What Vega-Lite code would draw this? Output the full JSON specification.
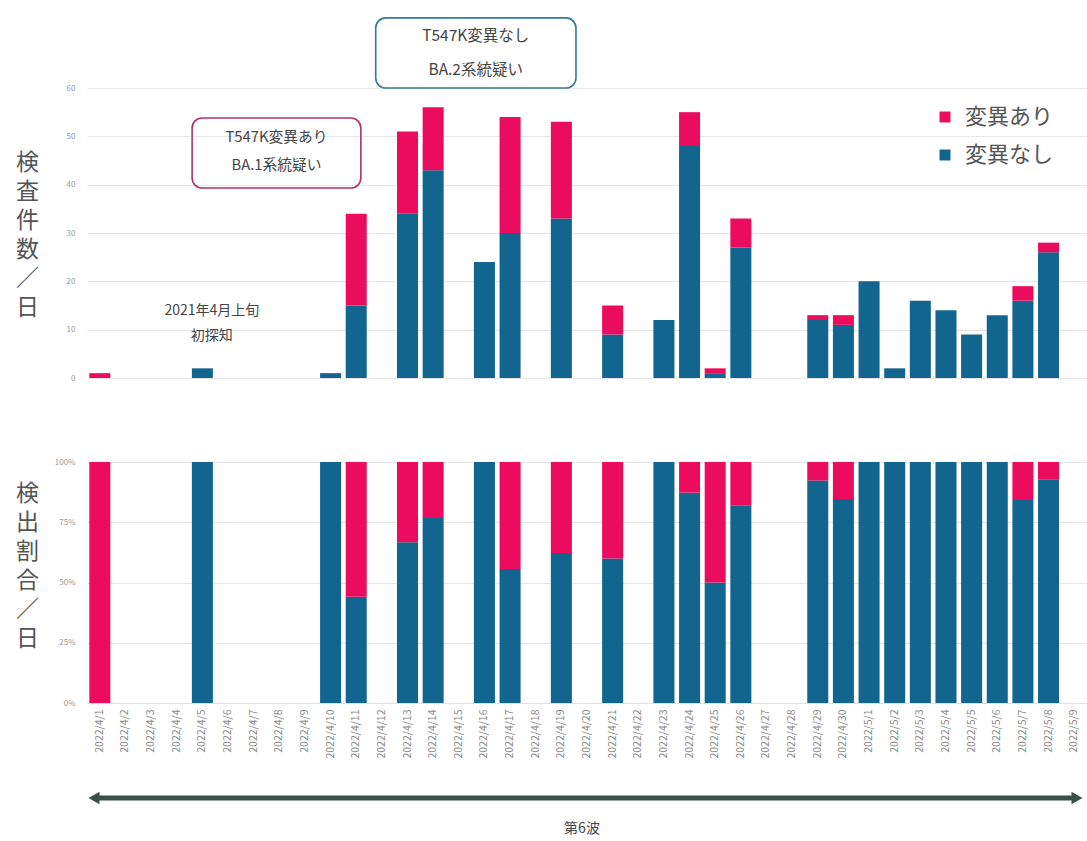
{
  "$schema": "https://vega.github.io/schema/vega-lite/v6.json",
  "padding": {"left": 15, "top": 17, "right": 0, "bottom": 12},
  "background": "white",
  "config": {
    "font": "Noto Sans CJK JP",
    "view": {"stroke": null},
    "axis": {"labelColor": "#999999", "labelFontSize": 8, "titleColor": "#555555", "titleFontWeight": "normal", "gridColor": "#e6e6e6", "domain": false, "ticks": false}
  },
  "datasets": {
    "tests": [
      {"date": "2022/4/1", "type": "変異あり", "count": 1},
      {"date": "2022/4/5", "type": "変異なし", "count": 2},
      {"date": "2022/4/10", "type": "変異なし", "count": 1},
      {"date": "2022/4/11", "type": "変異なし", "count": 15},
      {"date": "2022/4/11", "type": "変異あり", "count": 19},
      {"date": "2022/4/13", "type": "変異なし", "count": 34},
      {"date": "2022/4/13", "type": "変異あり", "count": 17},
      {"date": "2022/4/14", "type": "変異なし", "count": 43},
      {"date": "2022/4/14", "type": "変異あり", "count": 13},
      {"date": "2022/4/16", "type": "変異なし", "count": 24},
      {"date": "2022/4/17", "type": "変異なし", "count": 30},
      {"date": "2022/4/17", "type": "変異あり", "count": 24},
      {"date": "2022/4/19", "type": "変異なし", "count": 33},
      {"date": "2022/4/19", "type": "変異あり", "count": 20},
      {"date": "2022/4/21", "type": "変異なし", "count": 9},
      {"date": "2022/4/21", "type": "変異あり", "count": 6},
      {"date": "2022/4/23", "type": "変異なし", "count": 12},
      {"date": "2022/4/24", "type": "変異なし", "count": 48},
      {"date": "2022/4/24", "type": "変異あり", "count": 7},
      {"date": "2022/4/25", "type": "変異なし", "count": 1},
      {"date": "2022/4/25", "type": "変異あり", "count": 1},
      {"date": "2022/4/26", "type": "変異なし", "count": 27},
      {"date": "2022/4/26", "type": "変異あり", "count": 6},
      {"date": "2022/4/29", "type": "変異なし", "count": 12},
      {"date": "2022/4/29", "type": "変異あり", "count": 1},
      {"date": "2022/4/30", "type": "変異なし", "count": 11},
      {"date": "2022/4/30", "type": "変異あり", "count": 2},
      {"date": "2022/5/1", "type": "変異なし", "count": 20},
      {"date": "2022/5/2", "type": "変異なし", "count": 2},
      {"date": "2022/5/3", "type": "変異なし", "count": 16},
      {"date": "2022/5/4", "type": "変異なし", "count": 14},
      {"date": "2022/5/5", "type": "変異なし", "count": 9},
      {"date": "2022/5/6", "type": "変異なし", "count": 13},
      {"date": "2022/5/7", "type": "変異なし", "count": 16},
      {"date": "2022/5/7", "type": "変異あり", "count": 3},
      {"date": "2022/5/8", "type": "変異なし", "count": 26},
      {"date": "2022/5/8", "type": "変異あり", "count": 2}
    ],
    "boxes": [
      {"box": "BA.1", "x0": 4.10, "x1": 10.68, "y0": 39.3, "y1": 53.8},
      {"box": "BA.2", "x0": 11.26, "x1": 19.07, "y0": 60.0, "y1": 74.5}
    ],
    "notes": [
      {"x": 7.39, "y": 49.6, "label": "T547K変異あり", "size": "m"},
      {"x": 7.39, "y": 43.8, "label": "BA.1系統疑い", "size": "m"},
      {"x": 15.16, "y": 70.8, "label": "T547K変異なし", "size": "l"},
      {"x": 15.16, "y": 63.7, "label": "BA.2系統疑い", "size": "l"},
      {"x": 4.87, "y": 13.9, "label": "2021年4月上旬", "size": "s"},
      {"x": 4.87, "y": 8.7, "label": "初探知", "size": "s"}
    ],
    "arrowLine": [{"x0": 0.007, "x1": 0.990, "y": 1}],
    "arrowHeads": [
      {"x": 0.007, "y": 1, "dir": "left"},
      {"x": 0.990, "y": 1, "dir": "right"}
    ],
    "wave": [{"x": 0.495, "y": 0, "label": "第6波"}]
  },
  "vconcat": [
    {
      "vconcat": [
        {
          "width": 1000,
          "height": 290,
          "layer": [
            {
              "data": {"name": "tests"},
              "mark": {"type": "bar"},
              "encoding": {
                "x": {"field": "date", "type": "nominal", "sort": null,
                  "scale": {"domain": ["2022/4/1","2022/4/2","2022/4/3","2022/4/4","2022/4/5","2022/4/6","2022/4/7","2022/4/8","2022/4/9","2022/4/10","2022/4/11","2022/4/12","2022/4/13","2022/4/14","2022/4/15","2022/4/16","2022/4/17","2022/4/18","2022/4/19","2022/4/20","2022/4/21","2022/4/22","2022/4/23","2022/4/24","2022/4/25","2022/4/26","2022/4/27","2022/4/28","2022/4/29","2022/4/30","2022/5/1","2022/5/2","2022/5/3","2022/5/4","2022/5/5","2022/5/6","2022/5/7","2022/5/8","2022/5/9"], "paddingInner": 0.18, "paddingOuter": 0.09},
                  "axis": null},
                "y": {"field": "count", "type": "quantitative", "aggregate": "sum", "stack": "zero",
                  "scale": {"domain": [0, 60], "nice": false},
                  "axis": {"values": [0,10,20,30,40,50,60], "labelPadding": 12,
                    "title": ["検","査","件","数","／","日"], "titleAngle": 0, "titleFontSize": 23, "titleLineHeight": 29,
                    "titleAlign": "center", "titleBaseline": "middle", "titleX": -60, "titleY": 74}},
                "color": {"field": "type", "type": "nominal",
                  "scale": {"domain": ["変異あり", "変異なし"], "range": ["#ec0c5d", "#12658f"]},
                  "legend": {"orient": "none", "legendX": 847, "legendY": 18, "title": null,
                    "labelFontSize": 22, "labelColor": "#555555", "symbolType": "square", "symbolSize": 120,
                    "symbolStrokeWidth": 0, "labelOffset": 9, "rowPadding": 16}},
                "order": {"field": "type", "sort": "descending"}
              }
            },
            {
              "data": {"name": "boxes"},
              "mark": {"type": "rect", "cornerRadius": 10, "fill": "white", "fillOpacity": 0, "strokeWidth": 1.6},
              "encoding": {
                "x": {"field": "x0", "type": "quantitative", "scale": {"domain": [0, 39], "nice": false, "zero": false}, "axis": null},
                "x2": {"field": "x1"},
                "y": {"field": "y0", "type": "quantitative"},
                "y2": {"field": "y1"},
                "stroke": {"field": "box", "type": "nominal", "scale": {"domain": ["BA.1", "BA.2"], "range": ["#b0306a", "#2f7c93"]}, "legend": null}
              }
            },
            {
              "data": {"name": "notes"},
              "mark": {"type": "text", "align": "center", "baseline": "middle", "color": "#444444"},
              "encoding": {
                "x": {"field": "x", "type": "quantitative", "scale": {"domain": [0, 39], "nice": false, "zero": false}, "axis": null},
                "y": {"field": "y", "type": "quantitative"},
                "text": {"field": "label"},
                "size": {"field": "size", "type": "nominal", "scale": {"domain": ["s", "m", "l"], "range": [14, 15.5, 18.5]}, "legend": null}
              }
            }
          ],
          "resolve": {"scale": {"x": "independent"}}
        },
        {
          "width": 1000,
          "height": 241,
          "data": {"name": "tests"},
          "mark": {"type": "bar"},
          "encoding": {
            "x": {"field": "date", "type": "nominal", "sort": null,
              "scale": {"domain": ["2022/4/1","2022/4/2","2022/4/3","2022/4/4","2022/4/5","2022/4/6","2022/4/7","2022/4/8","2022/4/9","2022/4/10","2022/4/11","2022/4/12","2022/4/13","2022/4/14","2022/4/15","2022/4/16","2022/4/17","2022/4/18","2022/4/19","2022/4/20","2022/4/21","2022/4/22","2022/4/23","2022/4/24","2022/4/25","2022/4/26","2022/4/27","2022/4/28","2022/4/29","2022/4/30","2022/5/1","2022/5/2","2022/5/3","2022/5/4","2022/5/5","2022/5/6","2022/5/7","2022/5/8","2022/5/9"], "paddingInner": 0.18, "paddingOuter": 0.09},
              "axis": {"title": null, "labelAngle": -90, "labelFontSize": 10.5, "labelColor": "#8a8a8a", "labelPadding": 6, "domain": true, "domainColor": "#e0e0e0"}},
            "y": {"field": "count", "type": "quantitative", "aggregate": "sum", "stack": "normalize",
              "scale": {"domain": [0, 1], "nice": false},
              "axis": {"values": [0, 0.25, 0.5, 0.75, 1], "format": ".0%", "labelPadding": 12,
                "title": ["検","出","割","合","／","日"], "titleAngle": 0, "titleFontSize": 23, "titleLineHeight": 29,
                "titleAlign": "center", "titleBaseline": "middle", "titleX": -60, "titleY": 31}},
            "color": {"field": "type", "type": "nominal",
              "scale": {"domain": ["変異あり", "変異なし"], "range": ["#ec0c5d", "#12658f"]}, "legend": null},
            "order": {"field": "type", "sort": "descending"}
          }
        }
      ],
      "spacing": 76,
      "resolve": {"scale": {"color": "independent"}, "legend": {"color": "independent"}}
    },
    {
      "width": 1000,
      "height": 31,
      "layer": [
        {
          "data": {"name": "arrowLine"},
          "mark": {"type": "rule", "strokeWidth": 5, "color": "#3b5049"},
          "encoding": {
            "x": {"field": "x0", "type": "quantitative", "scale": {"domain": [0, 1], "nice": false}, "axis": null},
            "x2": {"field": "x1"},
            "y": {"field": "y", "type": "quantitative", "scale": {"domain": [0, 1], "nice": false}, "axis": null}
          }
        },
        {
          "data": {"name": "arrowHeads"},
          "mark": {"type": "point", "filled": true, "size": 160, "opacity": 1, "color": "#3b5049"},
          "encoding": {
            "x": {"field": "x", "type": "quantitative"},
            "y": {"field": "y", "type": "quantitative"},
            "shape": {"field": "dir", "type": "nominal", "scale": {"domain": ["left", "right"], "range": ["triangle-left", "triangle-right"]}, "legend": null}
          }
        },
        {
          "data": {"name": "wave"},
          "mark": {"type": "text", "fontSize": 14, "color": "#444444", "baseline": "middle", "align": "center"},
          "encoding": {
            "x": {"field": "x", "type": "quantitative"},
            "y": {"field": "y", "type": "quantitative"},
            "text": {"field": "label"}
          }
        }
      ]
    }
  ],
  "spacing": 32
}
